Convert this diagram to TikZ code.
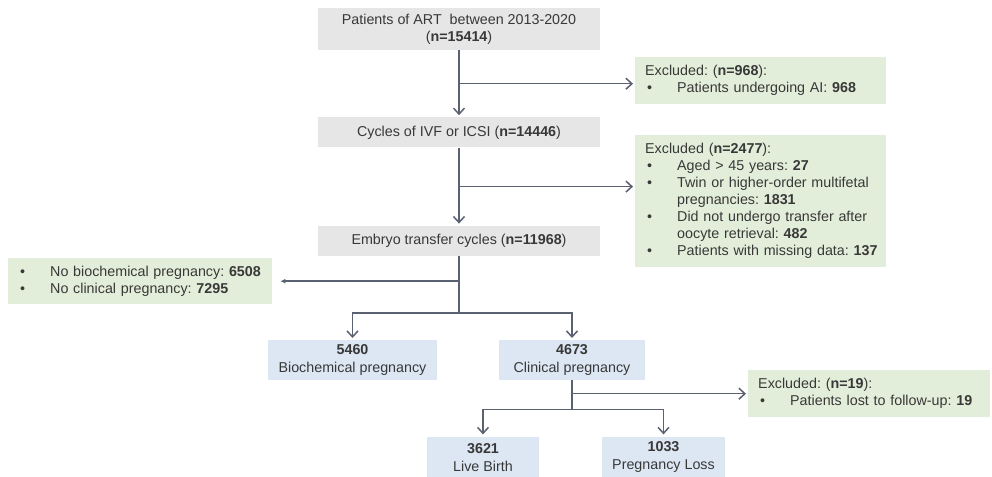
\documentclass[tikz,border=0pt]{standalone}
\usepackage{fontspec}
\setmainfont{Liberation Sans}
\usepackage{xcolor}
\usetikzlibrary{positioning, arrows.meta, calc}

\definecolor{boxgray}{HTML}{E6E6E6}
\definecolor{boxgreen}{HTML}{E2EEDA}
\definecolor{boxblue}{HTML}{DCE7F3}
\definecolor{linegray}{HTML}{5A6170}
\definecolor{textgray}{HTML}{383838}

% 标题行、项目符号与续行缩进
\newcommand{\hdr}{\hspace*{10pt}}
\newcommand{\bul}{\makebox[42pt][l]{\hspace*{12pt}\textbullet}}
\newcommand{\ind}{\hspace*{42pt}}

\begin{document}
\begin{tikzpicture}[
        % 全局字体
        font=\fontsize{14.3pt}{17pt}\selectfont\frenchspacing,
        text=textgray,
        % 主流程灰框
        flow/.style={
            rectangle,
            fill=boxgray,
            minimum width=282pt,
            inner sep=2pt,
            align=center
        },
        % 排除说明绿框
        excl/.style={
            rectangle,
            fill=boxgreen,
            inner xsep=0pt,
            inner ysep=3pt,
            align=left
        },
        % 结局蓝框
        result/.style={
            rectangle,
            fill=boxblue,
            minimum height=40pt,
            inner sep=2pt,
            align=center
        },
        % 箭头与连线
        arrow/.style={
            -{Straight Barb[length=6pt,width=11pt]},
            line width=1.5pt,
            draw=linegray,
            shorten >=2pt
        },
        link/.style={
            line width=1.5pt,
            draw=linegray
        }
    ]

    \useasboundingbox (0,0) rectangle (992pt,-476pt);

    % 1. 主流程 (从上到下)
    \node[flow, minimum height=42pt] (top) at (459pt,-29pt) {Patients of ART~ between 2013-2020\\(\textbf{n=15414})};
    \node[flow, minimum height=30pt, below=67pt of top] (ivf) {Cycles of IVF or ICSI (\textbf{n=14446})};
    \node[flow, minimum height=30pt, below=78pt of ivf] (embryo) {Embryo transfer cycles (\textbf{n=11968})};

    % 2. 妊娠结局
    \node[result, minimum width=169pt, below=84pt of embryo, xshift=-106.5pt] (bio) {\textbf{5460}\\[1pt]Biochemical pregnancy};
    \node[result, minimum width=146pt, below=84pt of embryo, xshift=113pt] (clin) {\textbf{4673}\\[1pt]Clinical pregnancy};
    \node[result, minimum width=112pt, minimum height=41pt, below=56pt of clin, xshift=-89pt] (live) {\textbf{3621}\\[1pt]Live Birth};
    \node[result, minimum width=123pt, minimum height=41pt, below=56pt of clin, xshift=91.5pt] (loss) {\textbf{1033}\\[1pt]Pregnancy Loss};

    % 3. 排除说明
    \node[excl, text width=251pt, minimum height=47pt, anchor=north west] (exc_ai) at (635pt,-57pt)
        {\hdr Excluded: (\textbf{n=968}):\\\bul Patients undergoing AI: \textbf{968}};
    \node[excl, text width=251pt, minimum height=132pt, anchor=north west] (exc_tx) at (635pt,-135pt)
        {\hdr Excluded (\textbf{n=2477}):\\
         \bul Aged > 45 years: \textbf{27}\\
         \bul Twin or higher-order multifetal\\
         \ind pregnancies: \textbf{1831}\\
         \bul Did not undergo transfer after\\
         \ind oocyte retrieval: \textbf{482}\\
         \bul Patients with missing data: \textbf{137}};
    \node[excl, text width=264pt, minimum height=46pt, anchor=north west] (nopreg) at (8pt,-258pt)
        {\bul No biochemical pregnancy: \textbf{6508}\\\bul No clinical pregnancy: \textbf{7295}};
    \node[excl, text width=242pt, minimum height=47pt, anchor=north west] (lost) at (748pt,-370pt)
        {\hdr Excluded: (\textbf{n=19}):\\\bul Patients lost to follow-up: \textbf{19}};

    % 4. 连线
    \coordinate (j1) at ($(top.south)!0.5!(ivf.north)$);
    \coordinate (j2) at ($(ivf.south)!0.5!(embryo.north)$);
    \coordinate (s1) at ([yshift=-57pt]embryo.south);
    \coordinate (s2) at ([yshift=-29pt]clin.south);

    \draw[arrow] (top) -- (ivf);
    \draw[arrow] (j1) -- (j1 -| exc_ai.west);
    \draw[arrow] (ivf) -- (embryo);
    \draw[arrow] (j2) -- (j2 -| exc_tx.west);

    \draw[link] (embryo) -- (s1);
    \draw[arrow, -{Latex[length=5pt,width=5pt]}, shorten >=8pt] (embryo.south |- nopreg.east) -- (nopreg);
    \draw[arrow] (s1) -| (bio);
    \draw[arrow] (s1) -| (clin);

    \draw[link] (clin) -- (s2);
    \draw[arrow] (clin.south |- lost.west) -- (lost);
    \draw[arrow] (s2) -| (live);
    \draw[arrow] (s2) -| (loss);

\end{tikzpicture}
\end{document}
